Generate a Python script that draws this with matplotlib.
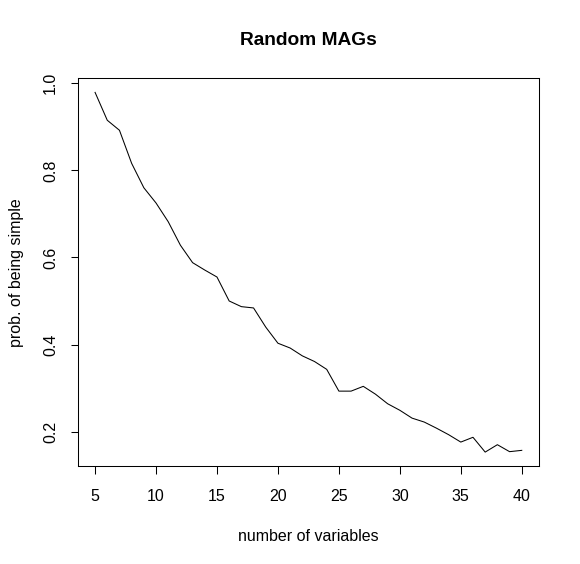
import matplotlib
matplotlib.use("Agg")
import matplotlib.pyplot as plt

# nombre de variables et probabilité
nb_variables = list(range(5, 41))
prob_simple = [0.979, 0.915, 0.892, 0.816, 0.760, 0.725, 0.682, 0.628, 0.588, 0.571,
               0.555, 0.500, 0.487, 0.484, 0.440, 0.403, 0.392, 0.374, 0.361, 0.343,
               0.293, 0.293, 0.304, 0.286, 0.264, 0.249, 0.231, 0.222, 0.208, 0.193,
               0.176, 0.187, 0.153, 0.170, 0.154, 0.157]

x_ticks = [5, 10, 15, 20, 25, 30, 35, 40]
y_ticks = [0.2, 0.4, 0.6, 0.8, 1.0]

plt.rcParams['font.family'] = ['Liberation Sans', 'DejaVu Sans']

fig = plt.figure(figsize=(5.8, 5.64), dpi=100)
ax = fig.add_axes([0.1345, 0.1729, 0.7945, 0.6888])

ax.plot(nb_variables, prob_simple, color="black", linewidth=0.75)

# marges à la R (4 %)
dx = (max(nb_variables) - min(nb_variables)) * 0.04
dy = (max(prob_simple) - min(prob_simple)) * 0.04
ax.set_xlim(min(nb_variables) - dx, max(nb_variables) + dx)
ax.set_ylim(min(prob_simple) - dy, max(prob_simple) + dy)

ax.set_xticks(x_ticks)
ax.set_xticklabels([str(v) for v in x_ticks])
ax.set_yticks(y_ticks)
ax.set_yticklabels([f"{v:.1f}" for v in y_ticks], rotation=90, va="center")

for s in ax.spines.values():
    s.set_linewidth(0.75)
ax.tick_params(direction="out", length=5.4, width=0.75, labelsize=11.5)
ax.tick_params(axis="x", pad=10.5)
ax.tick_params(axis="y", pad=9)

ax.set_xlabel("number of variables", fontsize=11.5, labelpad=18)
ax.set_ylabel("prob. of being simple", fontsize=11.5, labelpad=14)
ax.set_title("Random MAGs", fontsize=13.8, fontweight="bold", pad=23.5)

fig.savefig("out.png", dpi=100)
